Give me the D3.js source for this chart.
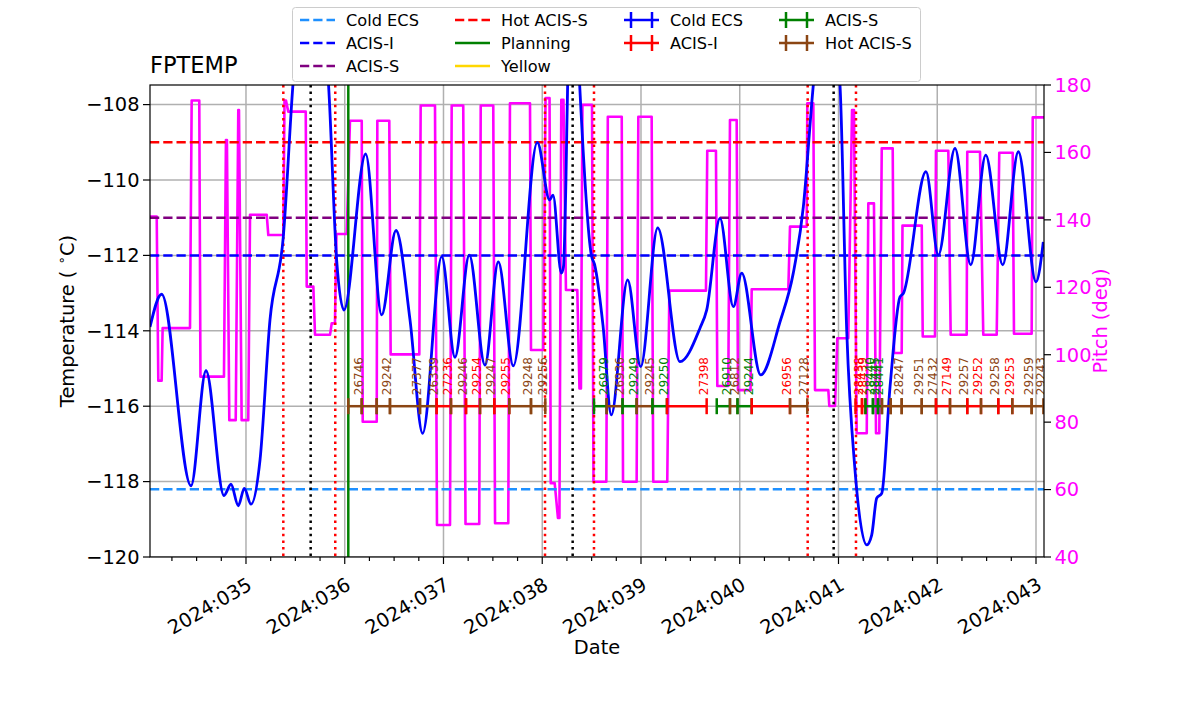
<!DOCTYPE html>
<html><head><meta charset="utf-8">
<script src="https://cdn.jsdelivr.net/npm/d3@7"></script>
<style>body{margin:0;background:#fff}svg{display:block}text{font-family:"DejaVu Sans",sans-serif}</style>
</head><body><svg id="c" width="1200" height="714"></svg>
<script>
// ---------- data ----------
const tempDay = [34.028,34.146,34.443,34.595,34.777,34.848,34.922,34.983,35.051,35.142,35.243,35.378,35.479,35.66,35.833,35.918,35.992,36.212,36.374,36.519,36.661,36.789,36.982,37.116,37.261,37.420,37.555,37.707,37.950,38.075,38.109,38.193,38.215,38.240,38.258,38.32,38.379,38.497,38.531,38.615,38.699,38.865,38.997,39.169,39.395,39.597,39.665,39.800,39.935,40.020,40.212,40.408,40.542,40.644,40.745,40.88,41.015,41.083,41.167,41.286,41.336,41.387,41.438,41.522,41.623,41.656,41.886,42.011,42.180,42.339,42.491,42.663,42.821,43.000,43.074];
const tempDegC = [-113.9,-113.03,-118.11,-115.06,-118.37,-118.07,-118.64,-118.18,-118.60,-117.43,-113.71,-111.50,-107.35,-104.0,-107.35,-112.12,-113.45,-109.31,-113.58,-111.34,-113.71,-116.72,-112.03,-114.70,-111.99,-114.91,-112.17,-114.93,-109.00,-110.53,-110.40,-112.47,-112.3,-110.0,-107.35,-104.0,-107.48,-111.99,-112.25,-113.85,-116.23,-112.65,-114.95,-111.27,-114.82,-113.93,-113.45,-111.02,-113.36,-112.47,-115.17,-113.76,-112.47,-110.71,-107.48,-104.5,-107.48,-113.98,-117.69,-119.68,-119.42,-118.44,-118.31,-115.48,-113.10,-113.01,-109.78,-111.99,-109.16,-112.25,-109.34,-112.25,-109.25,-112.70,-111.64];

const pitchDay = [34.028,34.096,34.112,34.146,34.156,34.433,34.450,34.527,34.539,34.777,34.797,34.807,34.831,34.896,34.922,34.929,34.956,35.023,35.041,35.210,35.226,35.378,35.390,35.405,35.428,35.605,35.615,35.682,35.699,35.851,35.868,35.901,35.916,36.020,36.053,36.172,36.182,36.324,36.330,36.451,36.465,36.755,36.769,36.914,36.934,37.066,37.083,37.200,37.223,37.362,37.377,37.504,37.522,37.656,37.673,37.876,37.886,38.011,38.033,38.074,38.086,38.126,38.159,38.174,38.193,38.215,38.240,38.355,38.377,38.392,38.407,38.504,38.519,38.649,38.664,38.805,38.818,38.956,38.973,39.108,39.124,39.266,39.287,39.658,39.671,39.759,39.773,39.884,39.901,39.969,39.982,40.109,40.121,40.492,40.509,40.678,40.684,40.745,40.762,40.897,40.907,40.965,40.988,41.099,41.137,41.157,41.184,41.286,41.302,41.359,41.380,41.413,41.438,41.549,41.562,41.640,41.648,41.843,41.853,41.977,41.987,42.112,42.136,42.298,42.304,42.433,42.466,42.602,42.628,42.764,42.777,42.956,42.967,43.081];
const pitchDeg = [141,141,92.3,92.3,107.9,107.9,175.4,175.4,93.5,93.5,163.7,163.7,80.6,80.6,172.6,172.6,80.6,80.6,141.5,141.5,135.5,135.5,175.4,175.4,172.1,172.1,120.2,120.2,105.9,105.9,109.3,109.3,135.8,135.8,169.4,169.4,80.1,80.1,169.4,169.4,100.1,100.1,173.9,173.9,49.5,49.5,173.9,173.9,49.8,49.8,173.9,173.9,50.0,50.0,174.6,174.6,101.4,101.4,176.1,176.1,61.9,61.9,51.6,51.6,175.6,175.6,119.2,119.2,90.0,90.0,174.1,174.1,62.3,62.3,170.6,170.6,62.3,62.3,170.6,170.6,62.3,62.3,119.0,119.0,160.5,160.5,90.7,90.7,169.6,169.6,89.5,89.5,119.4,119.4,138.0,138.0,174.6,174.6,89.5,89.5,84.8,84.8,104.9,104.9,172.6,172.6,76.7,76.7,144.9,144.9,76.7,76.7,161.2,161.2,100.5,100.5,138.3,138.3,105.4,105.4,160.5,160.5,105.9,105.9,160.2,160.2,105.9,105.9,159.9,159.9,106.2,106.2,170.4,170.4];

const limitNames = ["Cold ECS","ACIS-I","ACIS-S","Hot ACIS-S"];
const limitValues = [-118.2,-112,-111,-109];

const redTimes = [35.378,35.904,38.028,38.524,40.688,41.177];
const blackTimes = [35.655,38.308,40.951];
const planningTimes = [36.036];

const obsId = ["26746","","29242","27377","26339","27236","29246","29254","29247","29255","29248","29256","26979","26936","29249","29245","29250","27398","26910","26812","29244","26956","27128","28438","28439","28440","28445","28441","","28247","29251","27432","27149","29257","29252","29258","29253","29259","29243"];
const obsMode = ["H","H","H","H","H","I","H","I","H","I","H","H","S","H","S","H","S","I","S","H","S","I","H","I","I","S","S","S","H","H","H","H","I","H","I","H","I","H","H"];
const obsStart = [36.036,36.172,36.324,36.458,36.762,36.931,37.076,37.228,37.370,37.514,37.666,37.886,38.524,38.653,38.813,38.956,39.116,39.263,39.767,39.901,39.977,40.121,40.509,41.172,41.238,41.273,41.349,41.400,41.440,41.529,41.640,41.843,41.987,42.129,42.304,42.443,42.618,42.760,42.956];
const obsStop = [36.172,36.324,36.458,36.762,36.931,37.076,37.228,37.370,37.514,37.666,37.886,38.031,38.653,38.813,38.956,39.116,39.263,39.665,39.901,39.977,40.121,40.509,40.684,41.238,41.273,41.349,41.400,41.440,41.529,41.640,41.843,41.987,42.129,42.304,42.443,42.618,42.760,42.956,43.075];
const obsLevel = -116;

const dayTicks = [35,36,37,38,39,40,41,42,43];
const tempTicks = [-120,-118,-116,-114,-112,-110,-108];
const pitchTicks = [40,60,80,100,120,140,160,180];

// ---------- styles ----------
const limitColors = ["#1e90ff","#0000ff","#800080","#ff0000"];
const modeColor = {I:"#ff0000", S:"#008000", H:"#8b4513", C:"#0000ff"};
const FONT = 19.4;

// ---------- layout ----------
const L=150, R=1044, T=85, B=557;
const svg = d3.select("#c");
const x = d3.scaleLinear().domain([34.028, 43.081]).range([L, R]);
const yT = d3.scaleLinear().domain([-120, -107.48]).range([B, T]);
const yP = d3.scaleLinear().domain([40, 180]).range([B, T]);

svg.append("defs").append("clipPath").attr("id","clip")
  .append("rect").attr("x",L).attr("y",T).attr("width",R-L).attr("height",B-T);

const plot = svg.append("g").attr("clip-path","url(#clip)");

// grid
plot.selectAll(".gx").data(dayTicks).join("line")
  .attr("x1",d=>x(d)).attr("x2",d=>x(d)).attr("y1",T).attr("y2",B)
  .attr("stroke","#b0b0b0").attr("stroke-width",1.5);
plot.selectAll(".gy").data(tempTicks).join("line")
  .attr("x1",L).attr("x2",R).attr("y1",d=>yT(d)).attr("y2",d=>yT(d))
  .attr("stroke","#b0b0b0").attr("stroke-width",1.5);

// pitch
plot.append("path")
  .datum(pitchDay.map((d,i)=>[d,pitchDeg[i]]))
  .attr("d", d3.line().x(d=>x(d[0])).y(d=>yP(d[1])))
  .attr("fill","none").attr("stroke","#ff00ff").attr("stroke-width",2.6).attr("stroke-linejoin","round");

// limit lines
plot.selectAll(".lim").data(limitValues).join("line")
  .attr("x1",L).attr("x2",R).attr("y1",d=>yT(d)).attr("y2",d=>yT(d))
  .attr("stroke",(d,i)=>limitColors[i]).attr("stroke-width",2.5).attr("stroke-dasharray","9.25,4");

// event lines
plot.selectAll(".red").data(redTimes).join("line")
  .attr("x1",d=>x(d)).attr("x2",d=>x(d)).attr("y1",T).attr("y2",B)
  .attr("stroke","#ff0000").attr("stroke-width",2.5).attr("stroke-dasharray","2.5,4.1");
plot.selectAll(".blk").data(blackTimes).join("line")
  .attr("x1",d=>x(d)).attr("x2",d=>x(d)).attr("y1",T).attr("y2",B)
  .attr("stroke","#000").attr("stroke-width",2.5).attr("stroke-dasharray","2.5,4.1");
plot.selectAll(".pln").data(planningTimes).join("line")
  .attr("x1",d=>x(d)).attr("x2",d=>x(d)).attr("y1",T).attr("y2",B)
  .attr("stroke","#008000").attr("stroke-width",2.5);

// temperature
plot.append("path")
  .datum(tempDay.map((d,i)=>[d,tempDegC[i]]))
  .attr("d", d3.line().curve(d3.curveMonotoneX).x(d=>x(d[0])).y(d=>yT(d[1])))
  .attr("fill","none").attr("stroke","#0000ff").attr("stroke-width",2.8);

// obsids
const yb = yT(obsLevel);
obsId.forEach((id,i)=>{
  const c = modeColor[obsMode[i]];
  const x0 = x(obsStart[i]), x1 = x(obsStop[i]);
  plot.append("line").attr("x1",x0).attr("x2",x1).attr("y1",yb).attr("y2",yb)
    .attr("stroke",c).attr("stroke-width",2.5);
  [x0,x1].forEach(xx=>plot.append("line").attr("x1",xx).attr("x2",xx).attr("y1",yb-8).attr("y2",yb+8)
    .attr("stroke",c).attr("stroke-width",2.5));
});
obsId.forEach((id,i)=>{
  if(!id) return;
  const xx = x(obsStop[i]) - 3;
  plot.append("text").attr("transform",`translate(${xx},${yb-11}) rotate(-90)`)
    .attr("dy","0.35em").attr("font-size",12).attr("fill",modeColor[obsMode[i]]).text(id);
});

// frame
svg.append("rect").attr("x",L).attr("y",T).attr("width",R-L).attr("height",B-T)
  .attr("fill","none").attr("stroke","#000").attr("stroke-width",1.2);

// x axis ticks
const minor = d3.range(34.25, 43.08, 0.25).filter(d=>Math.abs(d-Math.round(d))>0.01);
svg.selectAll(".xmin").data(minor).join("line")
  .attr("x1",d=>x(d)).attr("x2",d=>x(d)).attr("y1",B).attr("y2",B+4).attr("stroke","#000").attr("stroke-width",1.2);
svg.selectAll(".xmaj").data(dayTicks).join("line")
  .attr("x1",d=>x(d)).attr("x2",d=>x(d)).attr("y1",B).attr("y2",B+7).attr("stroke","#000").attr("stroke-width",1.2);
svg.selectAll(".xlab").data(dayTicks).join("text")
  .attr("transform",d=>`translate(${x(d)},${B+19}) rotate(-30)`)
  .attr("text-anchor","end").attr("dy","0.75em").attr("font-size",FONT)
  .text(d=>"2024:"+String(d).padStart(3,"0"));

// left axis
svg.selectAll(".ytk").data(tempTicks).join("line")
  .attr("x1",L-7).attr("x2",L).attr("y1",d=>yT(d)).attr("y2",d=>yT(d)).attr("stroke","#000").attr("stroke-width",1.2);
svg.selectAll(".ylab").data(tempTicks).join("text")
  .attr("x",L-10.5).attr("y",d=>yT(d)).attr("dy","0.35em").attr("text-anchor","end").attr("font-size",FONT)
  .text(d=>d3.format("d")(d));

// right axis
svg.selectAll(".ptk").data(pitchTicks).join("line")
  .attr("x1",R).attr("x2",R+7).attr("y1",d=>yP(d)).attr("y2",d=>yP(d)).attr("stroke","#000").attr("stroke-width",1.2);
svg.selectAll(".plab").data(pitchTicks).join("text")
  .attr("x",R+10.5).attr("y",d=>yP(d)).attr("dy","0.35em").attr("font-size",FONT).attr("fill","#ff00ff")
  .text(d=>d);

// axis labels
const tl = svg.append("text").attr("transform",`translate(74,${(T+B)/2}) rotate(-90)`)
  .attr("text-anchor","middle").attr("font-size",FONT);
tl.append("tspan").text("Temperature ( ");
tl.append("tspan").attr("font-size",FONT*0.7).attr("dy",-8).text("\u2218");
tl.append("tspan").attr("dy",8).text("C)");
svg.append("text").attr("transform",`translate(1107,${(T+B)/2}) rotate(-90)`)
  .attr("text-anchor","middle").attr("font-size",FONT).attr("fill","#ff00ff").text("Pitch (deg)");
svg.append("text").attr("x",(L+R)/2).attr("y",654).attr("text-anchor","middle").attr("font-size",FONT).text("Date");
svg.append("text").attr("x",L).attr("y",73).attr("font-size",22.5).text("FPTEMP");

// legend
const lg = svg.append("g");
lg.append("rect").attr("x",292.5).attr("y",7.5).attr("width",628).attr("height",74).attr("rx",3)
  .attr("fill","#fff").attr("fill-opacity",0.8).attr("stroke","#cccccc");
const legendItems = [
  {label:limitNames[0], color:limitColors[0], kind:"dash", col:0,row:0},
  {label:limitNames[1], color:limitColors[1], kind:"dash", col:0,row:1},
  {label:limitNames[2], color:limitColors[2], kind:"dash", col:0,row:2},
  {label:limitNames[3], color:limitColors[3], kind:"dash", col:1,row:0},
  {label:"Planning", color:"#008000", kind:"solid", col:1,row:1},
  {label:"Yellow", color:"#ffd700", kind:"solid", col:1,row:2},
  {label:"Cold ECS", color:modeColor.C, kind:"tick", col:2,row:0},
  {label:"ACIS-I", color:modeColor.I, kind:"tick", col:2,row:1},
  {label:"ACIS-S", color:modeColor.S, kind:"tick", col:3,row:0},
  {label:"Hot ACIS-S", color:modeColor.H, kind:"tick", col:3,row:1}
];
const colX = [300,455,624,779];
const rowY = [20,43,66];
legendItems.forEach(it=>{
  const hx = colX[it.col], hy = rowY[it.row];
  const ln = lg.append("line").attr("x1",hx).attr("x2",hx+35).attr("y1",hy).attr("y2",hy)
    .attr("stroke",it.color).attr("stroke-width",2.5);
  if(it.kind==="dash") ln.attr("stroke-dasharray","9.25,4");
  if(it.kind==="tick") [hx+7,hx+28].forEach(tx=>lg.append("line").attr("x1",tx).attr("x2",tx)
    .attr("y1",hy-8).attr("y2",hy+8).attr("stroke",it.color).attr("stroke-width",2.5));
  lg.append("text").attr("x",hx+46).attr("y",hy).attr("dy","0.35em").attr("font-size",16.2).text(it.label);
});
</script></body></html>
